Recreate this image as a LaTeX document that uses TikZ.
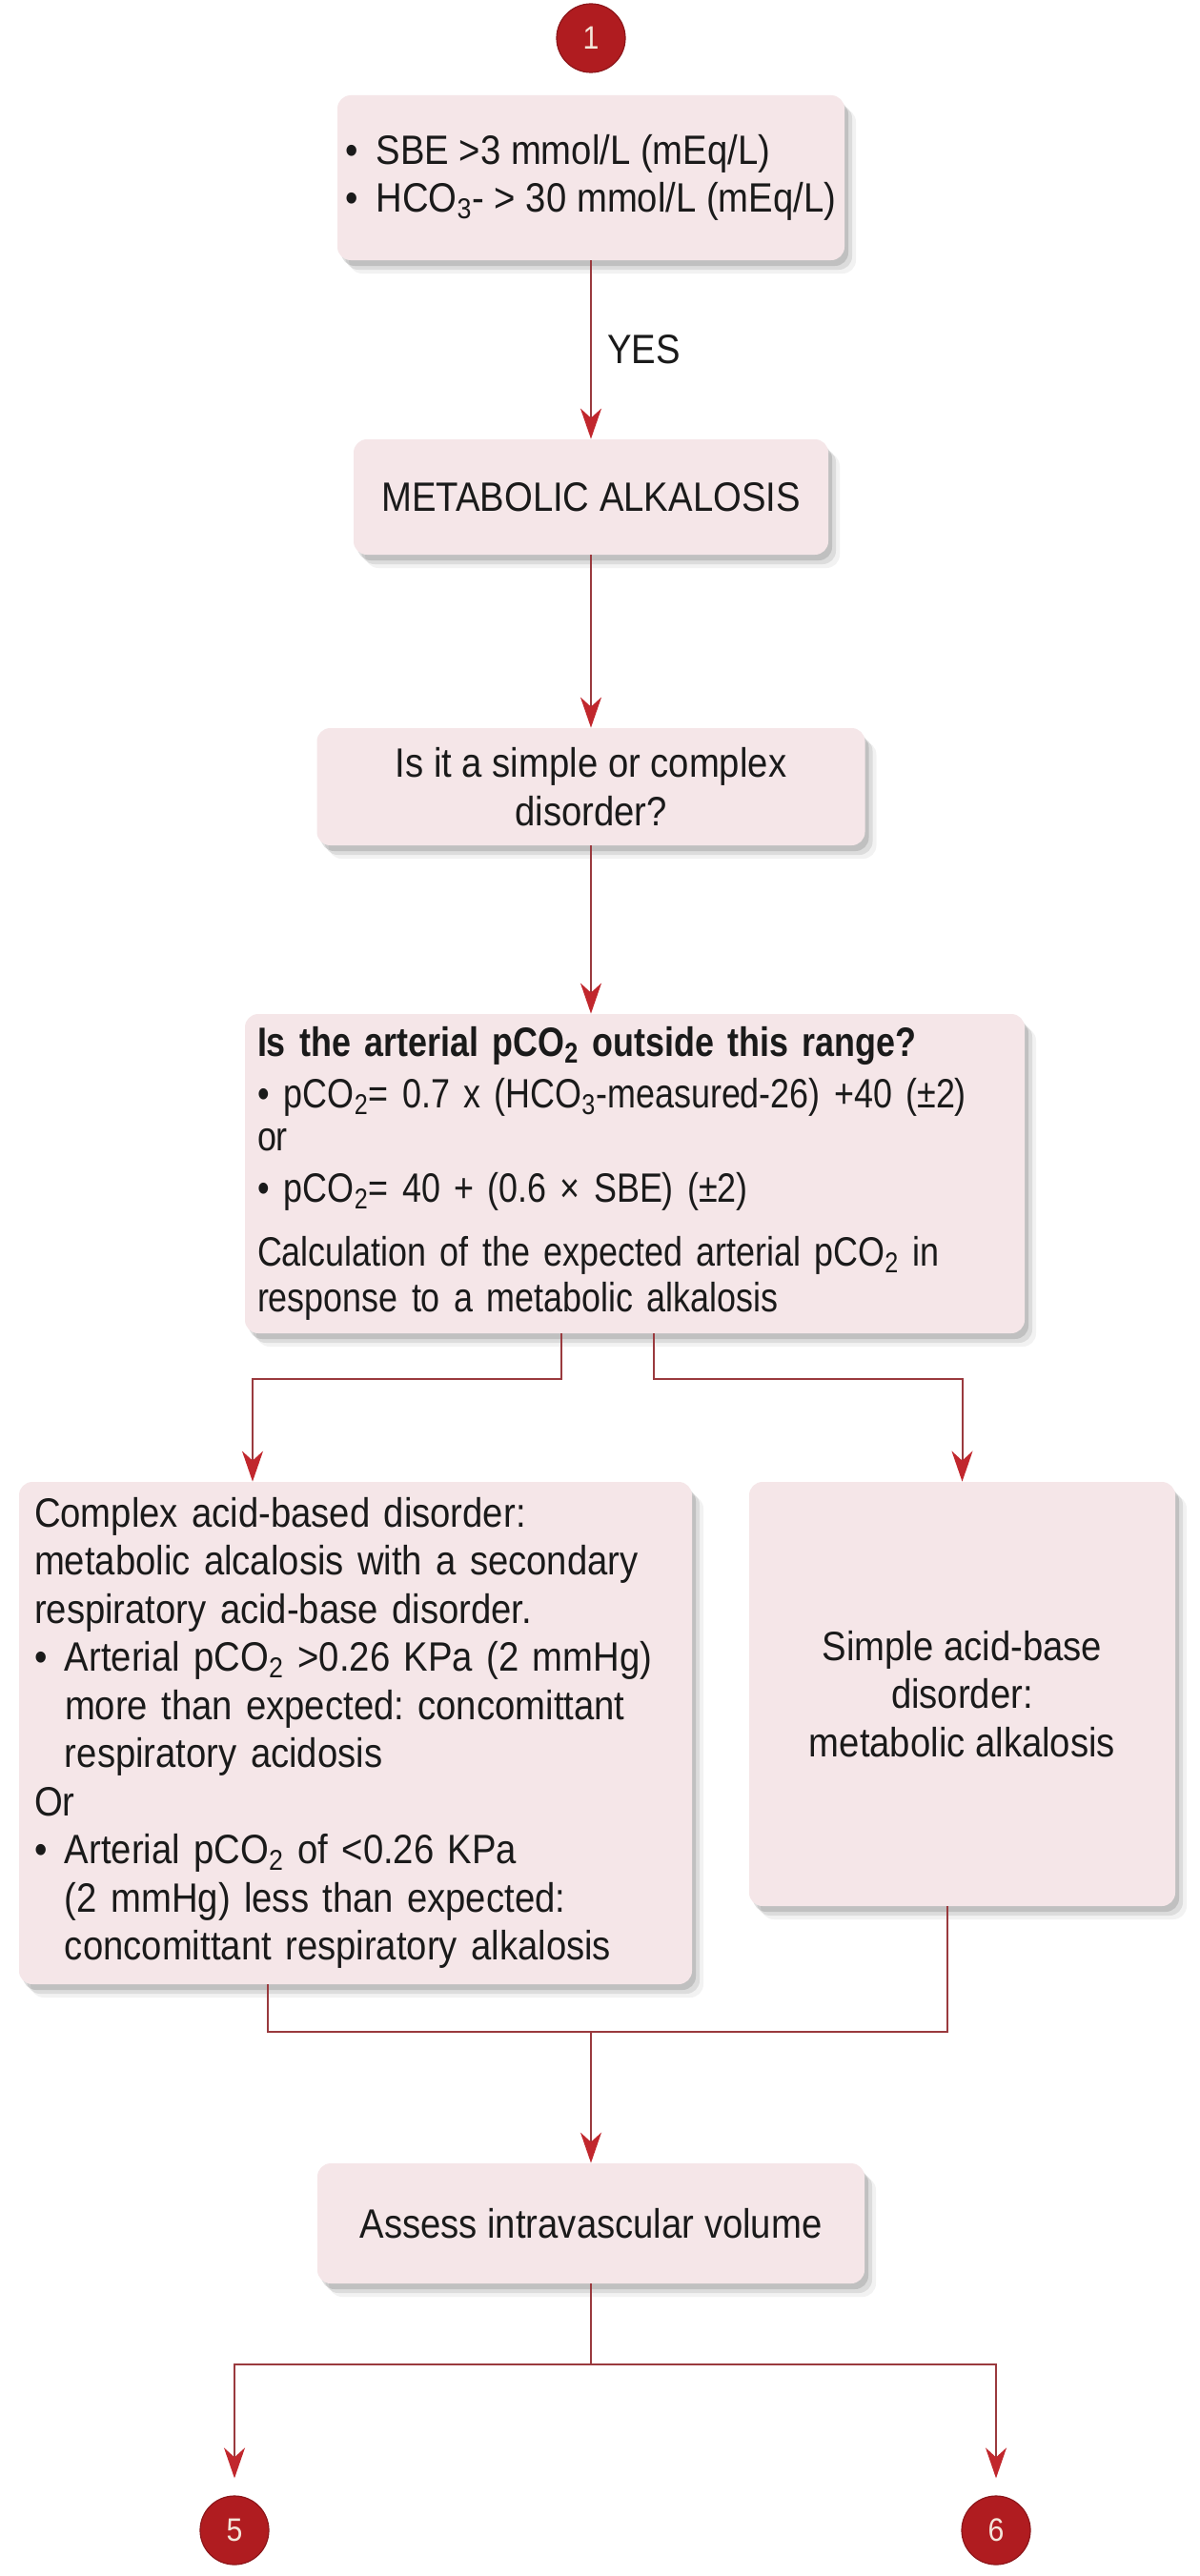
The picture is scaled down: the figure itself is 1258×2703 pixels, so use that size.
\documentclass[tikz,border=0pt]{standalone}
\usepackage{fontspec}
\setmainfont{Liberation Sans}[FakeStretch=0.89]
\newfontfamily\narrowfont{Liberation Sans}[FakeStretch=0.835]
\usetikzlibrary{arrows.meta,shadows}
\definecolor{boxpink}{HTML}{F5E6E8}
\definecolor{flowline}{HTML}{9A3A3E}
\definecolor{tipred}{HTML}{C1272D}
\definecolor{badgered}{HTML}{B01C20}
\definecolor{badgetext}{HTML}{F4E6DA}
\definecolor{inkblack}{HTML}{1A1A1A}
\tikzset{
  flow box/.style={
    rectangle, rounded corners=7pt, fill=boxpink, draw=none,
    inner xsep=0pt, inner ysep=0pt,
    drop shadow={shadow xshift=2pt, shadow yshift=-3pt, fill=black, opacity=0.12},
    drop shadow={shadow xshift=4pt, shadow yshift=-5pt, fill=black, opacity=0.09},
    drop shadow={shadow xshift=6pt, shadow yshift=-7pt, fill=black, opacity=0.05},
    text=inkblack, font=\fontsize{21.5}{25.25}\selectfont
  },
  badge/.style={
    circle, fill=badgered, draw=badgered!80!black, line width=0.6pt,
    minimum size=36pt, inner sep=0pt,
    text=badgetext, font=\fontsize{17}{19}\selectfont
  },
  flow line/.style={draw=flowline, line width=1pt},
  flow arrow/.style={
    flow line, -{Stealth[length=16pt,width=11pt,inset=5pt,color=tipred]}
  },
  yes label/.style={
    inner sep=0pt, text=inkblack, font=\fontsize{21.5}{25.25}\selectfont
  }
}
\newcommand{\bul}[1]{\makebox[#1][l]{•}}
\frenchspacing

\begin{document}
\begin{tikzpicture}[x=0.5pt,y=-0.5pt]
  \useasboundingbox (0,0) rectangle (1258,2703);
  \fill[white] (0,0) rectangle (1258,2703);

  % Main column, in pixel coordinates of the page.
  \node[badge] (c1) at (620,40) {1};
  \node[flow box, minimum width=266pt, minimum height=86.5pt, align=left]
    (crit) at (620,186.5)
    {\bul{16pt}SBE >3 mmol/L (mEq/L)\\
     \bul{16pt}HCO\textsubscript{3}- > 30 mmol/L (mEq/L)};
  \node[flow box, minimum width=249pt, minimum height=60.5pt]
    (metab) at (620,521.5) {METABOLIC ALKALOSIS};
  \node[flow box, minimum width=287.5pt, minimum height=61.5pt, align=center]
    (kind) at (620,825.5) {Is it a simple or complex\\disorder?};
  \node[flow box, minimum width=409pt, minimum height=167.5pt,
        text width=396pt, align=left,
        font=\narrowfont\fontsize{21.5}{25.25}\selectfont]
    (range) at (666,1231.5)
    {\textbf{Is the arterial pCO\textsubscript{2} outside this range?}\\[2pt]
     \bul{14pt}pCO\textsubscript{2}= 0.7 x (HCO\textsubscript{3}-measured-26) +40 (±2)\\[-3pt]
     or\\[2pt]
     \bul{14pt}pCO\textsubscript{2}= 40 + (0.6 × SBE) (±2)\\[8pt]
     Calculation of the expected arterial pCO\textsubscript{2} in\\[-1pt]
     response to a metabolic alkalosis};

  % The two outcomes.
  \node[flow box, minimum width=353pt, minimum height=263.5pt,
        text width=337pt, align=left]
    (complex) at (373,1818.5)
    {Complex acid-based disorder:\\
     metabolic alcalosis with a secondary\\
     respiratory acid-base disorder.\\
     \bul{16pt}Arterial pCO\textsubscript{2} >0.26 KPa (2 mmHg)\\
     \hspace*{16pt}more than expected: concomittant\\
     \hspace*{16pt}respiratory acidosis\\
     Or\\
     \bul{16pt}Arterial pCO\textsubscript{2} of <0.26 KPa\\
     \hspace*{16pt}(2 mmHg) less than expected:\\
     \hspace*{16pt}concomittant respiratory alkalosis};
  \node[flow box, minimum width=223.5pt, minimum height=222.5pt, align=center]
    (simple) at (1009.5,1777.5)
    {Simple acid-base\\disorder:\\metabolic alkalosis};

  \node[flow box, minimum width=287pt, minimum height=63pt]
    (assess) at (620,2333) {Assess intravascular volume};
  \node[badge] (c5) at (246,2655) {5};
  \node[badge] (c6) at (1045,2655) {6};

  % Junctions of the elbow connectors.
  \coordinate (splitL) at (589,1447);
  \coordinate (splitR) at (686,1447);
  \coordinate (inL) at (265,1447);
  \coordinate (outL) at (281,2132);
  \coordinate (outR) at (994,2132);
  \coordinate (join) at (620,2132);
  \coordinate (fork) at (620,2481);

  \draw[flow arrow] (crit) -- node[yes label, right=8pt] {YES} (metab);
  \draw[flow arrow] (metab) -- (kind);
  \draw[flow arrow] (kind) -- (range.north -| kind);
  \draw[flow arrow] (range.south -| splitL) -- (splitL) -- (inL)
    -- (complex.north -| inL);
  \draw[flow arrow] (range.south -| splitR) -- (splitR) -| (simple.north);
  \draw[flow line] (complex.south -| outL) -- (outL) -- (outR)
    -- (simple.south -| outR);
  \draw[flow arrow] (join) -- (assess.north -| join);
  \draw[flow line] (assess.south -| fork) -- (fork);
  \draw[flow arrow, shorten >=9pt] (fork) -| (c5);
  \draw[flow arrow, shorten >=9pt] (fork) -| (c6);
\end{tikzpicture}
\end{document}
